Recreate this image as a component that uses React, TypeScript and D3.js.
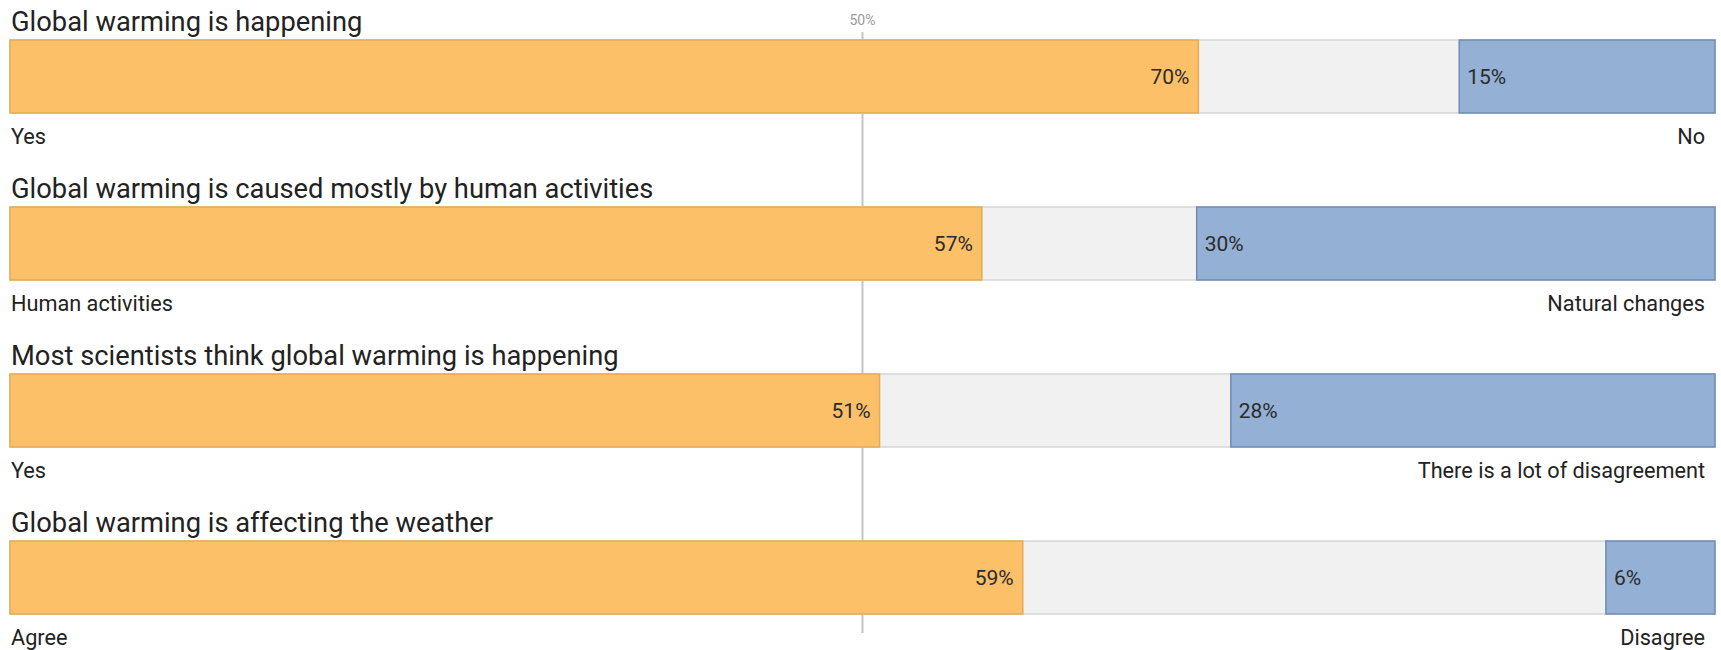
import React, { useEffect, useRef } from 'react';
import * as d3 from 'd3';

const questions = [
  'Global warming is happening',
  'Global warming is caused mostly by human activities',
  'Most scientists think global warming is happening',
  'Global warming is affecting the weather',
];
const leftLabels = ['Yes', 'Human activities', 'Yes', 'Agree'];
const rightLabels = ['No', 'Natural changes', 'There is a lot of disagreement', 'Disagree'];
// shares; labels show them rounded
const leftValues = [69.7, 57, 51, 59.4];
const rightValues = [15, 30.4, 28.4, 6.4];
const midTick = 50;

export default function App() {
  const svgRef = useRef<SVGSVGElement>(null);
  const width = 1721;
  const height = 650;

  useEffect(() => {
    if (!svgRef.current) return;
    const svg = d3.select(svgRef.current);
    svg.selectAll('*').remove();

    const x = d3.scaleLinear().domain([0, 100]).range([10, 1715]);
    const y = d3.scaleBand<string>()
      .domain(questions)
      .range([40, 614])
      .paddingInner(0.563)
      .paddingOuter(0);
    const bh = y.bandwidth();
    const font = 'Roboto, sans-serif';
    const pct = (v: number) => `${Math.round(v)}%`;

    // 50% reference line (drawn under the bars)
    svg.append('line')
      .attr('x1', x(midTick)).attr('x2', x(midTick))
      .attr('y1', 32).attr('y2', 633)
      .attr('stroke', '#c4c4c4')
      .attr('stroke-width', 2);
    svg.append('text')
      .attr('x', x(midTick))
      .attr('y', 25)
      .attr('text-anchor', 'middle')
      .attr('font-family', font)
      .attr('font-size', 14)
      .attr('fill', '#999')
      .text(`${midTick}%`);

    const rows = svg.selectAll('.row')
      .data(questions)
      .enter()
      .append('g')
      .attr('class', 'row');

    // grey background (undecided)
    rows.append('rect')
      .attr('x', x(0))
      .attr('y', d => y(d) || 0)
      .attr('width', x(100) - x(0))
      .attr('height', bh)
      .attr('fill', '#f1f1f1')
      .attr('stroke', '#d6d6d6')
      .attr('stroke-width', 1.5);

    rows.append('rect')
      .attr('x', x(0))
      .attr('y', d => y(d) || 0)
      .attr('width', (d, i) => x(leftValues[i]) - x(0))
      .attr('height', bh)
      .attr('fill', '#fbc068')
      .attr('stroke', '#e5ab57')
      .attr('stroke-width', 1.5);

    rows.append('rect')
      .attr('x', (d, i) => x(100 - rightValues[i]))
      .attr('y', d => y(d) || 0)
      .attr('width', (d, i) => x(100) - x(100 - rightValues[i]))
      .attr('height', bh)
      .attr('fill', '#94b0d4')
      .attr('stroke', '#6f8cb6')
      .attr('stroke-width', 1.5);

    rows.append('text')
      .attr('x', (d, i) => x(leftValues[i]) - 9)
      .attr('y', d => (y(d) || 0) + bh / 2)
      .attr('dy', '0.36em')
      .attr('text-anchor', 'end')
      .attr('font-family', font)
      .attr('font-size', 21)
      .attr('fill', '#2b2b2b')
      .text((d, i) => pct(leftValues[i]));

    rows.append('text')
      .attr('x', (d, i) => x(100 - rightValues[i]) + 8)
      .attr('y', d => (y(d) || 0) + bh / 2)
      .attr('dy', '0.36em')
      .attr('font-family', font)
      .attr('font-size', 21)
      .attr('fill', '#2b2b2b')
      .text((d, i) => pct(rightValues[i]));

    // question titles
    rows.append('text')
      .attr('x', 11)
      .attr('y', d => (y(d) || 0) - 9)
      .attr('font-family', font)
      .attr('font-size', 27.3)
      .attr('fill', '#222')
      .text(d => d);

    rows.append('text')
      .attr('x', 11)
      .attr('y', d => (y(d) || 0) + bh + 31)
      .attr('font-family', font)
      .attr('font-size', 21.7)
      .attr('fill', '#222')
      .text((d, i) => leftLabels[i]);

    rows.append('text')
      .attr('x', 1705)
      .attr('y', d => (y(d) || 0) + bh + 31)
      .attr('text-anchor', 'end')
      .attr('font-family', font)
      .attr('font-size', 21.7)
      .attr('fill', '#222')
      .text((d, i) => rightLabels[i]);
  }, []);

  return (
    <svg
      ref={svgRef}
      width={width}
      height={height}
      style={{ position: 'absolute', left: 0, top: 0, background: '#fff' }}
    />
  );
}
